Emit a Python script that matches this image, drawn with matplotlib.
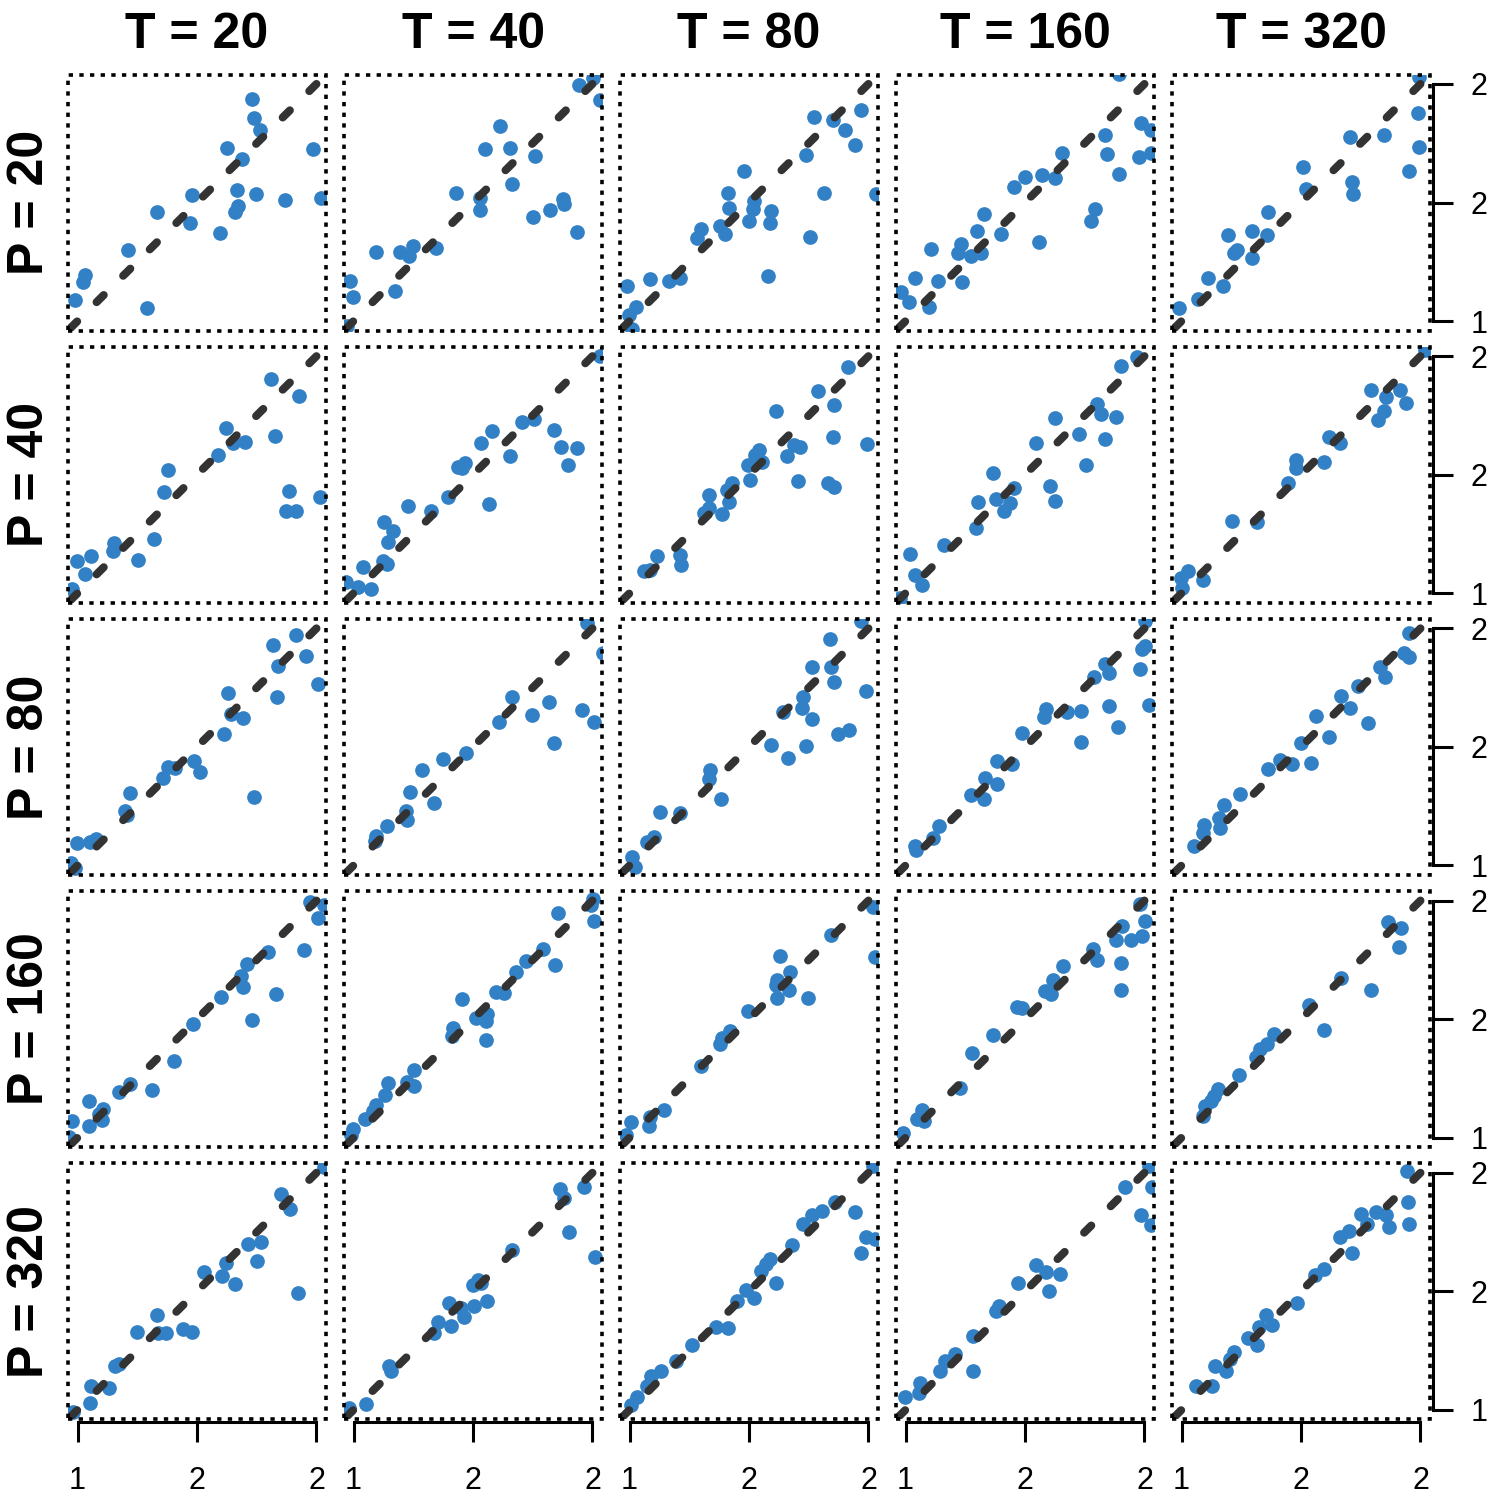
import matplotlib
matplotlib.use("Agg")
import matplotlib.pyplot as plt
from matplotlib.patches import Rectangle

plt.rcParams['font.family'] = ['Liberation Sans', 'DejaVu Sans']

# ---------------- data ----------------
T_values = [20, 40, 80, 160, 320]
P_values = [20, 40, 80, 160, 320]
tick_values = [1.0, 1.5, 2.0]
tick_labels = ["1", "2", "2"]
diag_x = [2.0, 0.9]
diag_y = [2.0, 0.9]

# P = 20
x_p20_t20 = [1.732, 1.740, 1.762, 1.624, 1.690, 1.984, 1.480, 1.669, 1.747, 1.868, 2.017, 1.672, 1.660, 1.331, 1.470, 1.598, 1.210, 1.031, 1.024, 0.990, 1.290]
y_p20_t20 = [1.936, 1.855, 1.807, 1.729, 1.685, 1.727, 1.531, 1.551, 1.534, 1.510, 1.520, 1.485, 1.461, 1.461, 1.413, 1.370, 1.300, 1.195, 1.163, 1.089, 1.055]
x_p20_t40 = [1.943, 2.003, 2.033, 1.613, 1.550, 1.655, 1.760, 1.662, 1.428, 1.530, 1.530, 1.878, 1.883, 1.823, 1.752, 1.935, 1.095, 1.193, 1.250, 1.230, 1.347, 0.987, 0.998, 1.175, 0.972]
y_p20_t40 = [1.996, 2.027, 1.933, 1.821, 1.726, 1.730, 1.698, 1.576, 1.541, 1.520, 1.467, 1.516, 1.495, 1.467, 1.440, 1.377, 1.293, 1.292, 1.317, 1.275, 1.310, 1.167, 1.100, 1.125, 0.981]
x_p20_t80 = [1.967, 1.773, 1.851, 1.900, 1.944, 1.738, 1.478, 1.411, 1.416, 1.522, 1.518, 1.593, 1.500, 1.589, 1.378, 1.400, 1.300, 1.284, 1.815, 1.755, 1.578, 1.211, 1.167, 1.084, 0.989, 1.027, 0.996, 1.011, 2.033]
y_p20_t80 = [1.891, 1.859, 1.849, 1.804, 1.744, 1.702, 1.632, 1.541, 1.478, 1.506, 1.471, 1.464, 1.422, 1.415, 1.401, 1.366, 1.387, 1.352, 1.541, 1.355, 1.188, 1.181, 1.170, 1.177, 1.149, 1.058, 1.027, 0.967, 1.534]
x_p20_t160 = [1.895, 1.984, 2.029, 1.835, 1.844, 1.978, 2.029, 1.895, 1.655, 1.624, 1.572, 1.499, 1.454, 1.791, 1.777, 1.327, 1.301, 1.401, 1.557, 1.232, 1.221, 1.272, 1.316, 1.105, 1.038, 1.134, 1.238, 0.982, 1.016, 1.098]
y_p20_t160 = [2.041, 1.835, 1.807, 1.786, 1.705, 1.691, 1.709, 1.621, 1.709, 1.604, 1.615, 1.607, 1.565, 1.471, 1.422, 1.450, 1.380, 1.366, 1.335, 1.324, 1.289, 1.275, 1.289, 1.303, 1.180, 1.170, 1.163, 1.121, 1.079, 1.058]
x_p20_t320 = [1.996, 1.991, 1.996, 1.951, 1.846, 1.706, 1.508, 1.523, 1.713, 1.717, 1.361, 1.196, 1.294, 1.356, 1.234, 1.218, 1.294, 1.111, 1.174, 1.067, 0.989]
y_p20_t320 = [2.031, 1.877, 1.733, 1.632, 1.786, 1.775, 1.649, 1.555, 1.586, 1.537, 1.461, 1.362, 1.380, 1.362, 1.299, 1.285, 1.265, 1.181, 1.149, 1.093, 1.055]

# P = 40
x_p40_t20 = [1.808, 1.925, 1.620, 1.703, 1.650, 1.826, 1.587, 1.380, 1.362, 1.887, 2.013, 1.872, 1.913, 1.320, 1.151, 1.148, 1.058, 0.998, 1.253, 1.031, 0.975]
y_p40_t20 = [1.905, 1.831, 1.699, 1.636, 1.632, 1.663, 1.582, 1.520, 1.426, 1.432, 1.404, 1.348, 1.345, 1.229, 1.212, 1.177, 1.156, 1.135, 1.142, 1.082, 1.019]
x_p40_t40 = [2.033, 1.706, 1.755, 1.578, 1.533, 1.838, 1.868, 1.935, 1.898, 1.655, 1.437, 1.467, 1.455, 1.395, 1.568, 1.227, 1.325, 1.128, 1.166, 1.143, 1.122, 1.140, 1.038, 1.017, 1.073, 0.968]
y_p40_t40 = [1.999, 1.723, 1.737, 1.685, 1.635, 1.688, 1.618, 1.611, 1.541, 1.579, 1.534, 1.551, 1.527, 1.408, 1.377, 1.369, 1.348, 1.299, 1.261, 1.216, 1.135, 1.125, 1.110, 1.027, 1.019, 1.047]
x_p40_t80 = [1.915, 1.789, 1.856, 1.611, 1.851, 1.993, 1.689, 1.715, 1.660, 1.540, 1.527, 1.556, 1.496, 1.504, 1.707, 1.829, 1.856, 1.427, 1.407, 1.333, 1.416, 1.333, 1.311, 1.389, 1.116, 1.211, 1.216, 1.084, 1.060]
y_p40_t80 = [1.954, 1.852, 1.796, 1.769, 1.657, 1.628, 1.625, 1.618, 1.579, 1.604, 1.583, 1.555, 1.541, 1.478, 1.475, 1.464, 1.450, 1.467, 1.436, 1.415, 1.384, 1.359, 1.338, 1.334, 1.156, 1.163, 1.118, 1.100, 1.093]
x_p40_t160 = [1.969, 1.900, 1.802, 1.817, 1.880, 1.624, 1.728, 1.833, 1.546, 1.755, 1.365, 1.454, 1.606, 1.624, 1.379, 1.439, 1.410, 1.305, 1.294, 1.160, 1.020, 1.038, 1.067, 0.978]
y_p40_t160 = [1.996, 1.957, 1.797, 1.755, 1.744, 1.741, 1.671, 1.649, 1.632, 1.541, 1.509, 1.443, 1.453, 1.387, 1.397, 1.380, 1.345, 1.384, 1.275, 1.205, 1.167, 1.075, 1.033, 0.980]
x_p40_t320 = [2.018, 1.791, 1.913, 1.857, 1.940, 1.846, 1.824, 1.619, 1.664, 1.479, 1.479, 1.597, 1.445, 1.212, 1.316, 1.029, 0.996, 1.000, 1.089]
y_p40_t320 = [2.024, 1.856, 1.859, 1.828, 1.804, 1.769, 1.730, 1.660, 1.632, 1.562, 1.527, 1.555, 1.467, 1.303, 1.299, 1.093, 1.065, 1.023, 1.055]

# P = 80
x_p80_t20 = [1.913, 1.818, 1.958, 1.838, 2.006, 1.628, 1.833, 1.643, 1.692, 1.613, 1.488, 1.511, 1.380, 1.410, 1.358, 1.218, 1.200, 1.208, 1.737, 0.998, 1.050, 1.076, 0.990, 0.971]
y_p80_t20 = [1.971, 1.930, 1.884, 1.842, 1.765, 1.727, 1.709, 1.639, 1.621, 1.555, 1.440, 1.394, 1.415, 1.411, 1.370, 1.306, 1.230, 1.212, 1.289, 1.093, 1.100, 1.110, 0.991, 1.009]
x_p80_t40 = [1.977, 1.665, 1.818, 1.745, 1.958, 2.007, 1.610, 1.838, 1.470, 1.376, 1.286, 1.235, 1.335, 1.220, 1.223, 1.140, 1.095, 1.088, 2.045]
y_p80_t40 = [2.021, 1.712, 1.688, 1.636, 1.657, 1.604, 1.607, 1.517, 1.475, 1.450, 1.401, 1.310, 1.265, 1.230, 1.191, 1.167, 1.124, 1.103, 1.898]
x_p80_t80 = [1.967, 1.838, 1.762, 1.844, 1.856, 1.991, 1.727, 1.722, 1.644, 1.762, 1.918, 1.873, 1.593, 1.740, 1.662, 1.338, 1.333, 1.382, 1.129, 1.211, 1.104, 1.071, 1.011, 1.022]
y_p80_t80 = [2.031, 1.954, 1.838, 1.839, 1.772, 1.737, 1.709, 1.663, 1.646, 1.618, 1.573, 1.555, 1.506, 1.502, 1.454, 1.401, 1.366, 1.279, 1.226, 1.222, 1.121, 1.100, 1.037, 0.995]
x_p80_t160 = [2.002, 2.002, 1.991, 1.980, 1.833, 1.851, 1.788, 2.018, 1.851, 1.891, 1.588, 1.579, 1.677, 1.733, 1.733, 1.488, 1.383, 1.445, 1.334, 1.383, 1.272, 1.327, 1.138, 1.116, 1.038, 1.042]
y_p80_t160 = [2.031, 1.926, 1.912, 1.828, 1.849, 1.811, 1.793, 1.677, 1.674, 1.586, 1.660, 1.628, 1.646, 1.650, 1.520, 1.558, 1.439, 1.429, 1.370, 1.342, 1.296, 1.279, 1.166, 1.117, 1.082, 1.065]
x_p80_t320 = [1.953, 1.931, 1.953, 1.829, 1.851, 1.739, 1.668, 1.706, 1.561, 1.780, 1.619, 1.501, 1.363, 1.412, 1.463, 1.541, 1.245, 1.178, 1.156, 1.094, 1.163, 1.089, 1.051]
y_p80_t320 = [1.979, 1.898, 1.880, 1.835, 1.797, 1.758, 1.716, 1.664, 1.632, 1.600, 1.541, 1.517, 1.408, 1.443, 1.429, 1.433, 1.300, 1.257, 1.198, 1.170, 1.159, 1.138, 1.083]

# P = 160
x_p160_t20 = [1.973, 2.030, 2.007, 1.947, 1.796, 1.710, 1.683, 1.692, 1.830, 1.601, 1.730, 1.485, 1.403, 1.218, 1.173, 1.310, 1.047, 1.107, 1.088, 1.103, 1.047, 0.975, 0.965]
y_p160_t20 = [1.996, 1.982, 1.926, 1.793, 1.783, 1.734, 1.681, 1.635, 1.608, 1.594, 1.496, 1.478, 1.324, 1.226, 1.191, 1.201, 1.156, 1.121, 1.100, 1.075, 1.048, 1.069, 1.002]
x_p160_t40 = [2.003, 1.995, 2.006, 1.856, 1.793, 1.722, 1.842, 1.680, 1.598, 1.628, 1.452, 1.560, 1.512, 1.553, 1.418, 1.410, 1.556, 1.253, 1.145, 1.223, 1.253, 1.130, 1.092, 1.083, 1.047, 0.998, 0.990]
y_p160_t40 = [2.007, 1.982, 1.915, 1.947, 1.797, 1.747, 1.730, 1.699, 1.615, 1.611, 1.583, 1.523, 1.506, 1.492, 1.464, 1.429, 1.412, 1.286, 1.229, 1.233, 1.219, 1.181, 1.138, 1.114, 1.079, 1.037, 1.013]
x_p160_t80 = [2.018, 2.029, 1.844, 1.629, 1.671, 1.618, 1.611, 1.667, 1.618, 1.749, 1.496, 1.422, 1.389, 1.378, 1.300, 1.144, 1.084, 1.082, 1.007, 0.984]
y_p160_t80 = [1.975, 1.761, 1.856, 1.768, 1.699, 1.667, 1.642, 1.621, 1.590, 1.590, 1.534, 1.450, 1.419, 1.397, 1.303, 1.117, 1.086, 1.051, 1.065, 1.013]
x_p160_t160 = [1.980, 2.002, 1.991, 1.906, 1.880, 1.944, 1.784, 1.802, 1.902, 1.902, 1.657, 1.617, 1.584, 1.610, 1.468, 1.488, 1.365, 1.278, 1.227, 1.067, 1.049, 1.076, 0.989]
y_p160_t160 = [1.985, 1.915, 1.849, 1.891, 1.835, 1.835, 1.797, 1.751, 1.737, 1.621, 1.723, 1.667, 1.618, 1.604, 1.551, 1.548, 1.433, 1.355, 1.209, 1.117, 1.079, 1.072, 1.019]
x_p160_t320 = [1.864, 1.920, 1.909, 1.668, 1.791, 1.535, 1.595, 1.385, 1.356, 1.330, 1.312, 1.241, 1.152, 1.134, 1.123, 1.100, 1.089]
y_p160_t320 = [1.909, 1.884, 1.803, 1.674, 1.621, 1.558, 1.454, 1.436, 1.394, 1.373, 1.342, 1.265, 1.205, 1.177, 1.156, 1.135, 1.093]

# P = 320
x_p320_t20 = [2.030, 1.850, 1.890, 1.713, 1.767, 1.752, 1.620, 1.530, 1.605, 1.658, 1.923, 1.331, 1.250, 1.335, 1.370, 1.440, 1.478, 1.155, 1.175, 1.055, 1.130, 1.053, 0.983]
y_p320_t20 = [2.023, 1.911, 1.848, 1.701, 1.708, 1.626, 1.619, 1.582, 1.563, 1.530, 1.491, 1.402, 1.330, 1.325, 1.323, 1.341, 1.327, 1.183, 1.194, 1.099, 1.094, 1.029, 0.989]
x_p320_t40 = [1.863, 1.883, 1.965, 1.901, 2.010, 1.665, 1.520, 1.500, 1.535, 1.557, 1.505, 1.398, 1.448, 1.463, 1.353, 1.407, 1.335, 1.148, 1.158, 1.050, 0.983]
y_p320_t40 = [1.932, 1.894, 1.941, 1.750, 1.645, 1.673, 1.547, 1.526, 1.535, 1.460, 1.439, 1.451, 1.428, 1.393, 1.372, 1.353, 1.323, 1.185, 1.162, 1.026, 1.008]
x_p320_t80 = [2.018, 1.862, 1.944, 1.807, 1.762, 1.727, 1.989, 2.027, 1.967, 1.682, 1.589, 1.573, 1.549, 1.611, 1.489, 1.522, 1.451, 1.411, 1.360, 1.260, 1.193, 1.133, 1.089, 1.071, 1.033, 1.007]
y_p320_t80 = [2.030, 1.876, 1.834, 1.838, 1.820, 1.785, 1.729, 1.722, 1.661, 1.694, 1.638, 1.614, 1.586, 1.533, 1.505, 1.470, 1.460, 1.344, 1.351, 1.274, 1.204, 1.164, 1.141, 1.099, 1.054, 1.022]
x_p320_t160 = [2.018, 1.918, 2.033, 1.984, 2.029, 1.546, 1.588, 1.646, 1.472, 1.599, 1.390, 1.379, 1.283, 1.283, 1.205, 1.165, 1.143, 1.060, 1.056, 0.998]
y_p320_t160 = [2.030, 1.941, 1.941, 1.824, 1.778, 1.610, 1.582, 1.572, 1.533, 1.502, 1.437, 1.418, 1.313, 1.162, 1.236, 1.204, 1.162, 1.113, 1.071, 1.054]
x_p320_t320 = [1.942, 1.947, 1.951, 1.869, 1.753, 1.813, 1.857, 1.775, 1.702, 1.664, 1.713, 1.597, 1.557, 1.483, 1.352, 1.379, 1.323, 1.278, 1.316, 1.218, 1.201, 1.138, 1.185, 1.060, 1.127]
y_p320_t320 = [2.006, 1.876, 1.785, 1.773, 1.827, 1.834, 1.820, 1.785, 1.754, 1.729, 1.661, 1.596, 1.568, 1.449, 1.400, 1.358, 1.348, 1.302, 1.274, 1.246, 1.213, 1.183, 1.162, 1.101, 1.099]

panel_data = {
    (20, 20): (x_p20_t20, y_p20_t20), (20, 40): (x_p20_t40, y_p20_t40),
    (20, 80): (x_p20_t80, y_p20_t80), (20, 160): (x_p20_t160, y_p20_t160),
    (20, 320): (x_p20_t320, y_p20_t320),
    (40, 20): (x_p40_t20, y_p40_t20), (40, 40): (x_p40_t40, y_p40_t40),
    (40, 80): (x_p40_t80, y_p40_t80), (40, 160): (x_p40_t160, y_p40_t160),
    (40, 320): (x_p40_t320, y_p40_t320),
    (80, 20): (x_p80_t20, y_p80_t20), (80, 40): (x_p80_t40, y_p80_t40),
    (80, 80): (x_p80_t80, y_p80_t80), (80, 160): (x_p80_t160, y_p80_t160),
    (80, 320): (x_p80_t320, y_p80_t320),
    (160, 20): (x_p160_t20, y_p160_t20), (160, 40): (x_p160_t40, y_p160_t40),
    (160, 80): (x_p160_t80, y_p160_t80), (160, 160): (x_p160_t160, y_p160_t160),
    (160, 320): (x_p160_t320, y_p160_t320),
    (320, 20): (x_p320_t20, y_p320_t20), (320, 40): (x_p320_t40, y_p320_t40),
    (320, 80): (x_p320_t80, y_p320_t80), (320, 160): (x_p320_t160, y_p320_t160),
    (320, 320): (x_p320_t320, y_p320_t320),
}

# ---------------- style / layout ----------------
POINT_COLOR = '#3280C5'
LINE_COLOR = '#333333'
W = H = 1500.0
PANEL_W, PANEL_H = 258.0, 256.0
LEFT0, COL_STEP = 68.0, 276.0
TOP0, ROW_STEP = 74.5, 272.2

fig = plt.figure(figsize=(15, 15), dpi=100)
fig.patch.set_facecolor('white')

n_rows, n_cols = len(P_values), len(T_values)
for r, P in enumerate(P_values):
    for c, T in enumerate(T_values):
        left = (LEFT0 + COL_STEP * c) / W
        top = (TOP0 + ROW_STEP * r) / H
        ax = fig.add_axes([left, 1 - top - PANEL_H / H, PANEL_W / W, PANEL_H / H])
        ax.set_xlim(0.96, 2.04)
        ax.set_ylim(0.96, 2.04)
        xs, ys = panel_data[(P, T)]
        ax.scatter(xs, ys, s=112, c=POINT_COLOR, linewidths=0, zorder=2)
        ax.plot(diag_x, diag_y, color=LINE_COLOR, lw=5.8,
                linestyle=(0, (1.25, 3.4)), dash_capstyle='round',
                solid_capstyle='round', zorder=3)
        box = Rectangle((0, 0), 1, 1, transform=ax.transAxes, fill=False,
                        edgecolor='black', lw=2.6, linestyle=(0, (1.2, 1.75)),
                        zorder=4, clip_on=False)
        ax.add_patch(box)
        for s in ax.spines.values():
            s.set_visible(False)
        ax.tick_params(left=False, labelleft=False, top=False, labeltop=False,
                       bottom=False, labelbottom=False, right=False, labelright=False)

        if r == n_rows - 1:
            sp = ax.spines['bottom']
            sp.set_visible(True)
            sp.set_bounds(tick_values[0], tick_values[-1])
            sp.set_position(('outward', 2))
            sp.set_linewidth(2.2)
            ax.set_xticks(tick_values)
            ax.set_xticklabels(tick_labels)
            ax.tick_params(axis='x', bottom=True, labelbottom=True, direction='out',
                           length=14.4, width=2.2, pad=17, labelsize=22)
        if c == n_cols - 1:
            sp = ax.spines['right']
            sp.set_visible(True)
            sp.set_bounds(tick_values[0], tick_values[-1])
            sp.set_position(('outward', 2))
            sp.set_linewidth(2.2)
            ax.set_yticks(tick_values)
            ax.set_yticklabels(tick_labels)
            ax.tick_params(axis='y', right=True, labelright=True, left=False, labelleft=False,
                           direction='out', length=14.4, width=2.2, pad=13, labelsize=22)

        if r == 0:
            cx = (LEFT0 + COL_STEP * c + PANEL_W / 2) / W
            fig.text(cx, 1 - 48 / H, f"T = {T}", ha='center', va='baseline',
                     fontsize=36, fontweight='bold')
        if c == 0:
            cy = 1 - (TOP0 + ROW_STEP * r + PANEL_H / 2) / H
            fig.text(43 / W, cy, f"P = {P}", ha='center', va='baseline',
                     rotation=90, rotation_mode='anchor',
                     fontsize=36, fontweight='bold')

fig.savefig('out.png', dpi=100, facecolor='white')
